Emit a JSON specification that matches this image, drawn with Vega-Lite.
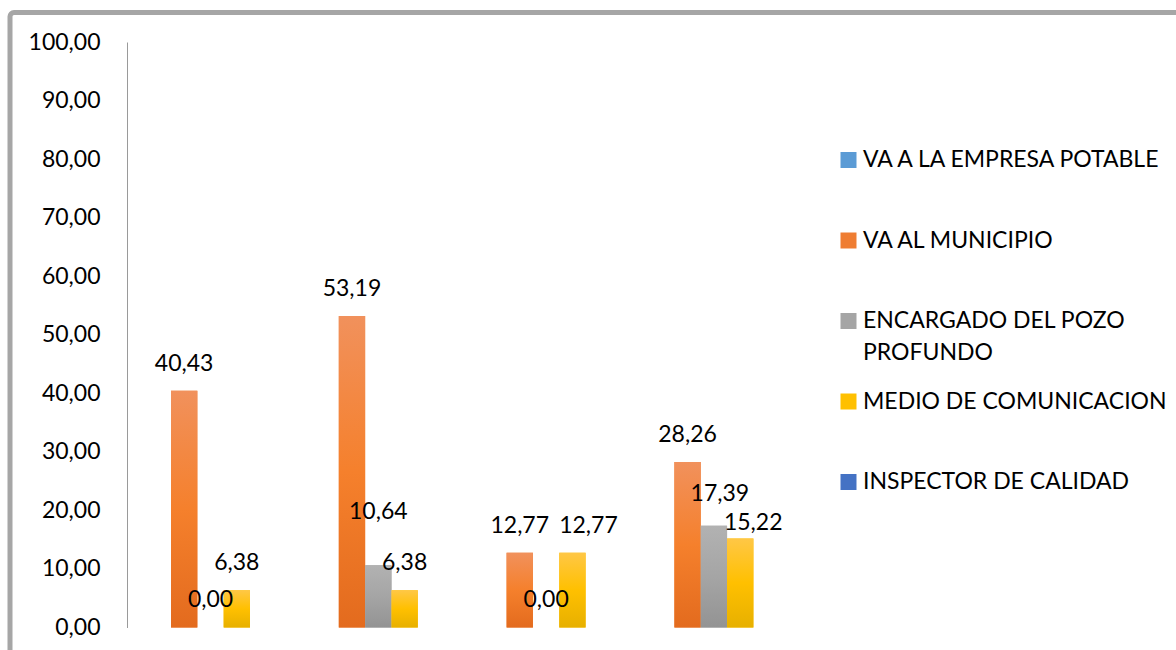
{
  "$schema": "https://vega.github.io/schema/vega-lite/v6.json",
  "width": 1240,
  "height": 660,
  "padding": {"left": 10, "top": 12.5, "right": 0, "bottom": 0},
  "background": "white",
  "config": {
    "locale": {"number": {"decimal": ",", "thousands": ".", "grouping": [3], "currency": ["", ""]}},
    "view": {"stroke": "#A6A6A6", "strokeWidth": 5, "cornerRadius": 4},
    "font": "Lato",
    "style": {"guide-label": {"lineHeight": 32}}
  },
  "data": {
    "values": [
      {"grupo": "1", "serie": "VA AL MUNICIPIO", "valor": 40.43},
      {"grupo": "1", "serie": "ENCARGADO DEL POZO PROFUNDO", "valor": 0.0},
      {"grupo": "1", "serie": "MEDIO DE COMUNICACION", "valor": 6.38},
      {"grupo": "2", "serie": "VA AL MUNICIPIO", "valor": 53.19},
      {"grupo": "2", "serie": "ENCARGADO DEL POZO PROFUNDO", "valor": 10.64},
      {"grupo": "2", "serie": "MEDIO DE COMUNICACION", "valor": 6.38},
      {"grupo": "3", "serie": "VA AL MUNICIPIO", "valor": 12.77},
      {"grupo": "3", "serie": "ENCARGADO DEL POZO PROFUNDO", "valor": 0.0},
      {"grupo": "3", "serie": "MEDIO DE COMUNICACION", "valor": 12.77},
      {"grupo": "4", "serie": "VA AL MUNICIPIO", "valor": 28.26},
      {"grupo": "4", "serie": "ENCARGADO DEL POZO PROFUNDO", "valor": 17.39},
      {"grupo": "4", "serie": "MEDIO DE COMUNICACION", "valor": 15.22}
    ]
  },
  "encoding": {
    "x": {
      "field": "grupo", "type": "nominal",
      "scale": {"domain": ["1", "2", "3", "4", "5", "6"], "paddingInner": 0.5292, "paddingOuter": 0.9595},
      "axis": null
    },
    "xOffset": {
      "field": "serie", "type": "nominal",
      "scale": {"domain": ["VA AL MUNICIPIO", "ENCARGADO DEL POZO PROFUNDO", "MEDIO DE COMUNICACION"], "paddingInner": 0, "paddingOuter": 0}
    },
    "y": {
      "field": "valor", "type": "quantitative",
      "scale": {"domain": [-7.686, 105.04], "zero": false, "nice": false},
      "axis": {
        "title": null,
        "values": [0, 10, 20, 30, 40, 50, 60, 70, 80, 90, 100],
        "format": ".2f",
        "offset": -117,
        "grid": false,
        "ticks": false,
        "labelPadding": 27,
        "labelFontSize": 23,
        "labelColor": "#000000",
        "labelFont": "Lato",
        "domainColor": "#9A9A9A",
        "domainWidth": 1,
        "domainDash": [0, 45, 585.5, 2000]
      }
    }
  },
  "layer": [
    {
      "mark": {"type": "bar"},
      "encoding": {
        "color": {
          "field": "serie", "type": "nominal",
          "scale": {
            "domain": ["VA A LA EMPRESA POTABLE", "VA AL MUNICIPIO", "ENCARGADO DEL POZO PROFUNDO", "MEDIO DE COMUNICACION", "INSPECTOR DE CALIDAD"],
            "range": ["#5B9BD5", "#EF7D32", "#A5A5A5", "#FFC000", "#4472C4"]
          },
          "legend": {
            "title": null,
            "orient": "none",
            "legendX": 827,
            "legendY": 136,
            "direction": "vertical",
            "symbolType": "square",
            "symbolSize": 256,
            "symbolStrokeWidth": 0,
            "labelFontSize": 23,
            "labelFont": "Lato",
            "labelColor": "#000000",
            "labelLimit": 400,
            "labelOffset": 3,
            "rowPadding": 24.5,
            "padding": 0,
            "labelExpr": "datum.label == 'ENCARGADO DEL POZO PROFUNDO' ? ['ENCARGADO DEL POZO', 'PROFUNDO'] : [datum.label, '']"
          }
        }
      }
    },
    {
      "transform": [{"filter": "datum.serie == 'VA AL MUNICIPIO'"}],
      "mark": {"type": "bar", "color": {"gradient": "linear", "x1": 0, "y1": 0, "x2": 0, "y2": 1, "stops": [{"offset": 0, "color": "#F1915C"}, {"offset": 0.5, "color": "#F5802C"}, {"offset": 1, "color": "#E36B1E"}]}}
    },
    {
      "transform": [{"filter": "datum.serie == 'ENCARGADO DEL POZO PROFUNDO'"}],
      "mark": {"type": "bar", "color": {"gradient": "linear", "x1": 0, "y1": 0, "x2": 0, "y2": 1, "stops": [{"offset": 0, "color": "#B2B2B2"}, {"offset": 0.5, "color": "#A5A5A5"}, {"offset": 1, "color": "#939393"}]}}
    },
    {
      "transform": [{"filter": "datum.serie == 'MEDIO DE COMUNICACION'"}],
      "mark": {"type": "bar", "color": {"gradient": "linear", "x1": 0, "y1": 0, "x2": 0, "y2": 1, "stops": [{"offset": 0, "color": "#FFC746"}, {"offset": 0.5, "color": "#FFC000"}, {"offset": 1, "color": "#E7B000"}]}}
    },
    {
      "transform": [{"filter": "!((datum.grupo == '2' && datum.serie == 'ENCARGADO DEL POZO PROFUNDO') || (datum.grupo == '3' && datum.serie == 'MEDIO DE COMUNICACION') || (datum.grupo == '4' && datum.serie != 'VA AL MUNICIPIO'))"}],
      "mark": {"type": "text", "dy": -27, "fontSize": 23, "font": "Lato", "color": "#000000", "baseline": "middle", "align": "center"},
      "encoding": {"text": {"field": "valor", "type": "quantitative", "format": ".2f"}}
    },
    {
      "transform": [{"filter": "datum.grupo == '2' && datum.serie == 'ENCARGADO DEL POZO PROFUNDO'"}],
      "mark": {"type": "text", "dy": -53, "fontSize": 23, "font": "Lato", "color": "#000000", "baseline": "middle", "align": "center"},
      "encoding": {"text": {"field": "valor", "type": "quantitative", "format": ".2f"}}
    },
    {
      "transform": [{"filter": "datum.grupo == '3' && datum.serie == 'MEDIO DE COMUNICACION'"}],
      "mark": {"type": "text", "dx": 16, "dy": -27, "fontSize": 23, "font": "Lato", "color": "#000000", "baseline": "middle", "align": "center"},
      "encoding": {"text": {"field": "valor", "type": "quantitative", "format": ".2f"}}
    },
    {
      "transform": [{"filter": "datum.grupo == '4' && datum.serie == 'ENCARGADO DEL POZO PROFUNDO'"}],
      "mark": {"type": "text", "dx": 6, "dy": -32, "fontSize": 23, "font": "Lato", "color": "#000000", "baseline": "middle", "align": "center"},
      "encoding": {"text": {"field": "valor", "type": "quantitative", "format": ".2f"}}
    },
    {
      "transform": [{"filter": "datum.grupo == '4' && datum.serie == 'MEDIO DE COMUNICACION'"}],
      "mark": {"type": "text", "dx": 13, "dy": -15, "fontSize": 23, "font": "Lato", "color": "#000000", "baseline": "middle", "align": "center"},
      "encoding": {"text": {"field": "valor", "type": "quantitative", "format": ".2f"}}
    }
  ]
}
